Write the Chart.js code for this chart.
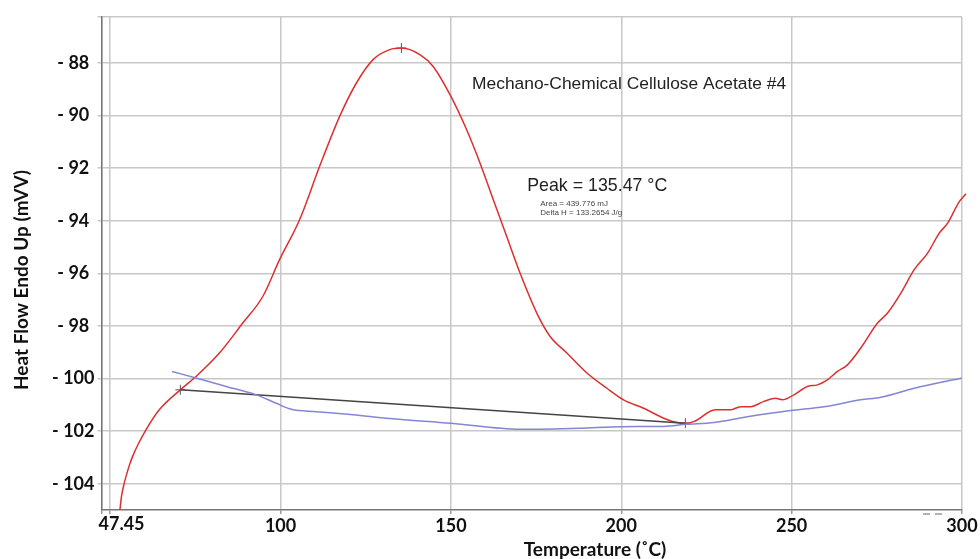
<!DOCTYPE html>
<html>
<head>
<meta charset="utf-8">
<title>DSC - Mechano-Chemical Cellulose Acetate #4</title>
<script src="https://cdn.jsdelivr.net/npm/chart.js@4.4.0/dist/chart.umd.min.js"></script>
<style>
  html, body { margin: 0; padding: 0; background: #fff; }
</style>
</head>
<body>
<canvas id="dsc" width="980" height="559"></canvas>
<script>
// sample trace (temperature °C, heat flow mVV)
const sampleTemp = [52.4, 52.85, 53.3, 54.12, 55.5, 56.56, 58.2, 60.5, 64.41, 70.59, 75.2, 82.06, 88.91, 94.79, 99.71, 105.59, 111.47, 117.35, 122.26, 127.15, 132.06, 135.47, 140.88, 144.79, 150.0, 154.62, 158.53, 162.44, 166.38, 170.29, 175.2, 179.12, 184.03, 189.91, 195.79, 200.68, 206.56, 212.44, 215.38, 218.82, 221.26, 227.65, 232.06, 235.0, 237.94, 241.85, 245.29, 247.26, 250.68, 254.62, 257.56, 260.5, 263.44, 266.38, 270.29, 275.21, 278.15, 282.06, 285.97, 289.91, 293.32, 295.79, 299.21, 301.18];
const sampleFlow = [-105.4, -105.0, -104.5, -103.98, -103.35, -102.97, -102.5, -101.95, -101.19, -100.43, -99.92, -99.03, -97.89, -96.88, -95.48, -93.96, -91.93, -90.03, -88.76, -87.87, -87.49, -87.43, -87.68, -88.13, -89.27, -90.54, -91.8, -93.2, -94.6, -95.99, -97.51, -98.4, -99.03, -99.79, -100.37, -100.81, -101.13, -101.51, -101.64, -101.7, -101.64, -101.19, -101.19, -101.07, -101.07, -100.87, -100.75, -100.81, -100.62, -100.3, -100.24, -100.05, -99.73, -99.48, -98.84, -97.89, -97.51, -96.75, -95.86, -95.23, -94.47, -94.09, -93.27, -92.97];

// reference run
const refTemp = [68.15, 75.2, 84.03, 92.85, 98.74, 103.15, 110.5, 121.26, 132.06, 150.0, 170.29, 187.9, 200.1, 212.44, 219.0, 227.2, 237.0, 249.7, 259.5, 270.29, 276.2, 285.97, 300.0];
const refFlow = [-99.73, -99.98, -100.3, -100.62, -100.94, -101.17, -101.26, -101.38, -101.52, -101.7, -101.93, -101.89, -101.83, -101.82, -101.74, -101.67, -101.45, -101.22, -101.07, -100.81, -100.71, -100.37, -99.98];

// integration baseline and its limits, plus the peak marker
const baseTemp = [70.59, 218.82];
const baseFlow = [-100.43, -101.7];
const markTemp = [70.59, 135.47, 218.82];
const markFlow = [-100.43, -87.43, -101.7];

const xTickValues = [47.45, 50, 100, 150, 200, 250, 300];
const xTickLabels = ['', '', '100', '150', '200', '250', '300'];
const xStartLabel = '47.45';
const yTickValues = [-104, -102, -100, -98, -96, -94, -92, -90, -88];
const yMin = -105, yMax = -86.25;

const chartTitle = 'Mechano-Chemical Cellulose Acetate #4';
const peakText = 'Peak = 135.47 °C';
const areaText = 'Area = 439.776 mJ';
const deltaText = 'Delta H = 133.2654 J/g';
const xTitle = 'Temperature (˚C)';
const yTitle = 'Heat Flow Endo Up (mVV)';

const pts = (xs, ys) => xs.map((v, i) => ({ x: v, y: ys[i] }));

const axisFont = { family: 'Lato', weight: 'bold', size: 18 };

// titles and peak notes written straight onto the canvas
const textLayer = {
  id: 'textLayer',
  afterDraw(chart) {
    const { ctx, chartArea, scales: { x, y } } = chart;
    ctx.save();
    ctx.textBaseline = 'middle';
    ctx.textAlign = 'left';
    ctx.fillStyle = '#222';

    ctx.font = '17.4px "Liberation Sans", Arial, sans-serif';
    ctx.fillText(chartTitle, x.getPixelForValue(156.2), y.getPixelForValue(-88.79));
    ctx.font = '17.8px "Liberation Sans", Arial, sans-serif';
    ctx.fillText(peakText, x.getPixelForValue(172.4), y.getPixelForValue(-92.67));

    ctx.fillStyle = '#444';
    ctx.font = '8px "Liberation Sans", Arial, sans-serif';
    ctx.fillText(areaText, x.getPixelForValue(176.2), y.getPixelForValue(-93.35));
    ctx.fillText(deltaText, x.getPixelForValue(176.2), y.getPixelForValue(-93.69));

    // first x label sits flush with the axis start
    ctx.fillStyle = '#111';
    ctx.font = 'bold 18px Lato';
    ctx.fillText(xStartLabel, chartArea.left - 3, 524);

    ctx.textAlign = 'center';
    ctx.font = 'bold 19px Lato';
    ctx.fillText(xTitle, 595, 550);
    ctx.translate(22, 280);
    ctx.rotate(-Math.PI / 2);
    ctx.fillText(yTitle, 0, 0);
    ctx.restore();

    // little dash pair under the right end of the axis
    ctx.save();
    ctx.strokeStyle = '#999';
    ctx.lineWidth = 1.5;
    ctx.beginPath();
    ctx.moveTo(chartArea.right - 39, chartArea.bottom + 4);
    ctx.lineTo(chartArea.right - 32, chartArea.bottom + 4);
    ctx.moveTo(chartArea.right - 27, chartArea.bottom + 4);
    ctx.lineTo(chartArea.right - 20, chartArea.bottom + 4);
    ctx.stroke();
    ctx.restore();
  }
};

new Chart(document.getElementById('dsc').getContext('2d'), {
  type: 'line',
  data: {
    datasets: [
      {
        label: 'Reference',
        data: pts(refTemp, refFlow),
        borderColor: '#8585d6',
        borderWidth: 1.5,
        pointRadius: 0,
        cubicInterpolationMode: 'monotone'
      },
      {
        label: 'Baseline',
        data: pts(baseTemp, baseFlow),
        borderColor: '#444',
        borderWidth: 1.5,
        pointRadius: 0
      },
      {
        label: 'Sample',
        data: pts(sampleTemp, sampleFlow),
        borderColor: '#dd2f2f',
        borderWidth: 1.5,
        pointRadius: 0,
        cubicInterpolationMode: 'monotone',
        clip: { left: 0, top: 0, right: 5, bottom: 0 }
      },
      {
        label: 'Markers',
        data: pts(markTemp, markFlow),
        showLine: false,
        pointStyle: 'cross',
        pointRadius: 5,
        pointBorderWidth: 1,
        pointBorderColor: '#555'
      }
    ]
  },
  options: {
    responsive: false,
    animation: false,
    layout: { padding: { top: 17, right: 18, left: 0, bottom: 0 } },
    plugins: {
      legend: { display: false },
      tooltip: { enabled: false }
    },
    scales: {
      x: {
        type: 'linear',
        min: 47.45,
        max: 300,
        afterBuildTicks: s => { s.ticks = xTickValues.map(v => ({ value: v })); },
        afterFit: s => { s.height = 49; },
        ticks: {
          callback: (v) => xTickLabels[xTickValues.indexOf(v)] || '',
          maxRotation: 0,
          autoSkip: false,
          padding: 1,
          color: '#111',
          font: axisFont
        },
        grid: { color: '#c8c8c8', lineWidth: 1.5, tickLength: 4, tickColor: '#999' },
        border: { color: '#777', width: 1.5 }
      },
      y: {
        min: yMin,
        max: yMax,
        afterBuildTicks: s => { s.ticks = yTickValues.concat([yMax]).map(v => ({ value: v })); },
        afterFit: s => { s.width = 101.5; },
        ticks: {
          callback: (v) => yTickValues.includes(v) ? '- ' + Math.abs(v) : '',
          crossAlign: 'center',
          autoSkip: false,
          padding: 3,
          color: '#111',
          font: axisFont
        },
        grid: { color: '#c8c8c8', lineWidth: 1.5, tickLength: 4, tickColor: '#c8c8c8' },
        border: { color: '#777', width: 1.5 }
      }
    }
  },
  plugins: [textLayer]
});
</script>
</body>
</html>
